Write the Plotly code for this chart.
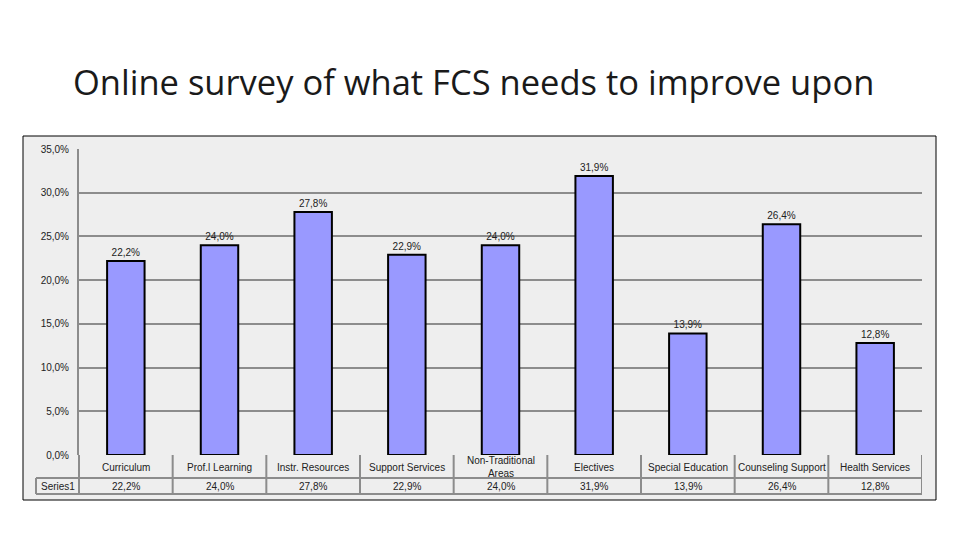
import plotly.graph_objects as go

categories = ["Curriculum", "Prof.l Learning", "Instr. Resources", "Support Services",
              "Non-Traditional<br>Areas", "Electives", "Special Education",
              "Counseling Support", "Health Services"]
values = [22.2, 24.0, 27.8, 22.9, 24.0, 31.9, 13.9, 26.4, 12.8]
series_name = "Series1"
title_text = "Online survey of what FCS needs to improve upon"

# pixel layout helpers
L, R, T, B = 79, 922, 149, 455
PW, PH = R - L, B - T
def px(x):
    return (x - L) / PW
def py(y):
    return (B - y) / PH

GRID = "#8c8c8c"
BG = "#eeeeee"
FONT = "Liberation Sans, Arial, sans-serif"

def fmt(v):
    return f"{v:.1f}".replace(".", ",") + "%"

fig = go.Figure()
fig.add_trace(go.Bar(
    x=categories, y=values, name=series_name,
    marker=dict(color="#9999ff", line=dict(color="black", width=2)),
    text=[fmt(v) for v in values],
    textposition="outside", cliponaxis=False,
    textfont=dict(family=FONT, size=10, color="#222222"),
    width=0.4,
))

shapes = []
# outer frame
shapes.append(dict(type="rect", xref="paper", yref="paper",
                   x0=px(23), x1=px(936), y0=py(500), y1=py(136),
                   fillcolor=BG, line=dict(color="black", width=1), layer="below"))
# table horizontal lines
for yy, x0 in [(478, 36), (494, 36)]:
    shapes.append(dict(type="line", xref="paper", yref="paper",
                       x0=px(x0), x1=px(R), y0=py(yy), y1=py(yy),
                       line=dict(color=GRID, width=2)))
# left vertical lines of table
shapes.append(dict(type="line", xref="paper", yref="paper",
                   x0=px(36), x1=px(36), y0=py(478), y1=py(494),
                   line=dict(color=GRID, width=2)))
shapes.append(dict(type="line", xref="paper", yref="paper",
                   x0=0, x1=0, y0=py(455), y1=py(494),
                   line=dict(color=GRID, width=2)))
# category boundaries
n = len(categories)
for i in range(1, n + 1):
    shapes.append(dict(type="line", xref="x", yref="paper",
                       x0=i - 0.5, x1=i - 0.5, y0=py(455), y1=py(494),
                       line=dict(color=GRID, width=2)))

annotations = []
for c, v in zip(categories, values):
    annotations.append(dict(x=c, xref="x", y=py(467), yref="paper",
                            text=c, showarrow=False, xanchor="center",
                            font=dict(family=FONT, size=10, color="#222222"),
                            yanchor="middle"))
    annotations.append(dict(x=c, xref="x", y=py(486.5), yref="paper",
                            text=fmt(v), showarrow=False, xanchor="center",
                            font=dict(family=FONT, size=10, color="#222222"),
                            yanchor="middle"))
annotations.append(dict(x=px(58), xref="paper", y=py(486.5), yref="paper",
                        text=series_name, showarrow=False, xanchor="center",
                        font=dict(family=FONT, size=10, color="#222222"),
                        yanchor="middle"))
annotations.append(dict(x=px(473), xref="paper", y=py(82), yref="paper",
                        text=title_text, showarrow=False,
                        font=dict(family="Open Sans, sans-serif", size=34.5, color="#1a1a1a"),
                        yanchor="middle", xanchor="center"))

fig.update_layout(
    width=960, height=540,
    margin=dict(l=L, r=960 - R, t=T, b=540 - B),
    paper_bgcolor="white", plot_bgcolor=BG,
    separators=", ",
    showlegend=False,
    shapes=shapes, annotations=annotations,
    xaxis=dict(showticklabels=False, showgrid=False, zeroline=False,
               range=[-0.5, n - 0.5], fixedrange=True),
    yaxis=dict(range=[0, 35], dtick=5, tickformat=".1f", ticksuffix="%",
               showgrid=True, gridcolor=GRID, gridwidth=2,
               showline=True, linecolor=GRID, linewidth=2,
               zeroline=False,
               tickfont=dict(family=FONT, size=10, color="#222222"),
               ticks="", ticklen=0, ticklabelstandoff=6),
)

fig.write_html("out.html")
